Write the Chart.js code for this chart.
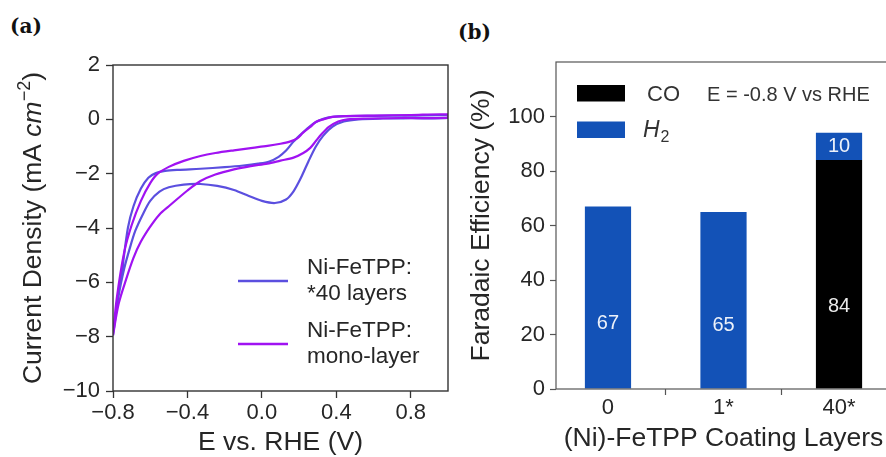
<!DOCTYPE html>
<html>
<head>
<meta charset="utf-8">
<script src="https://cdn.jsdelivr.net/npm/chart.js@4.4.1/dist/chart.umd.min.js"></script>
<style>
  html, body { margin: 0; padding: 0; background: #fff; overflow: hidden; }
  body { width: 886px; height: 457px; position: relative; }
  canvas { position: absolute; top: 0; }
  #cv-chart { left: 0; }
  #fe-chart { left: 440px; }
  .tag { position: absolute; font: bold 20px "DejaVu Serif", serif; line-height: 24px; color: #111; }
</style>
</head>
<body>
<div class="tag" style="left:10px; top:14px;">(a)</div>
<div class="tag" style="left:458px; top:20px;">(b)</div>
<canvas id="cv-chart" width="460" height="457"></canvas>
<canvas id="fe-chart" width="460" height="457"></canvas>
<script>
// --- cyclic voltammograms, potential (V vs RHE) and current density (mA cm-2) ---
// 40 layers: cathodic branch out to 1.0 V, then the return branch back to -0.8 V
const cv40E = [-0.80, -0.77, -0.74, -0.71, -0.68, -0.64, -0.60, -0.55, -0.50, -0.42, -0.33, -0.24, -0.15, -0.07, 0.00, 0.07, 0.13, 0.17, 0.21, 0.25, 0.29, 0.33, 0.38, 0.44, 0.52, 0.65, 0.80, 1.00,
               1.00, 0.80, 0.60, 0.45, 0.38, 0.33, 0.29, 0.25, 0.21, 0.17, 0.13, 0.09, 0.04, -0.02, -0.10, -0.20, -0.33, -0.45, -0.52, -0.57, -0.61, -0.65, -0.69, -0.72, -0.75, -0.78, -0.80];
const cv40J = [-7.95, -6.5, -5.5, -4.75, -4.1, -3.5, -3.0, -2.66, -2.5, -2.4, -2.38, -2.45, -2.6, -2.82, -3.0, -3.08, -2.95, -2.65, -2.15, -1.55, -1.0, -0.6, -0.27, -0.08, 0.0, 0.03, 0.04, 0.05,
               0.15, 0.14, 0.13, 0.12, 0.09, 0.02, -0.1, -0.3, -0.55, -0.82, -1.15, -1.38, -1.55, -1.63, -1.7, -1.76, -1.82, -1.86, -1.9, -1.98, -2.15, -2.55, -3.2, -4.0, -5.5, -6.95, -7.95];
// mono-layer
const cvMonoE = [-0.80, -0.77, -0.73, -0.69, -0.65, -0.60, -0.55, -0.50, -0.40, -0.33, -0.25, -0.15, -0.06, 0.03, 0.10, 0.17, 0.22, 0.26, 0.29, 0.32, 0.36, 0.41, 0.46, 0.55, 0.75, 1.00,
                 1.00, 0.80, 0.60, 0.45, 0.38, 0.33, 0.29, 0.26, 0.22, 0.19, 0.15, 0.10, 0.03, -0.05, -0.15, -0.25, -0.33, -0.42, -0.50, -0.56, -0.60, -0.65, -0.70, -0.74, -0.78, -0.80];
const cvMonoJ = [-7.95, -6.8, -5.9, -5.1, -4.5, -3.95, -3.5, -3.2, -2.62, -2.27, -2.03, -1.84, -1.72, -1.63, -1.52, -1.41, -1.25, -1.05, -0.8, -0.55, -0.28, -0.08, 0.0, 0.03, 0.05, 0.06,
                 0.18, 0.16, 0.14, 0.12, 0.09, 0.0, -0.1, -0.28, -0.5, -0.7, -0.82, -0.9, -0.98, -1.05, -1.14, -1.24, -1.35, -1.53, -1.75, -2.0, -2.35, -3.0, -3.9, -4.9, -6.6, -7.95];
const cvNames = [['Ni-FeTPP:', '*40 layers'], ['Ni-FeTPP:', 'mono-layer']];
const eTicks = [-0.8, -0.4, 0, 0.4, 0.8];
const jTicks = [2, 0, -2, -4, -6, -8, -10];

// --- Faradaic efficiency per coating ---
const layers = ['0', '1*', '40*'];
const feCO = [null, null, 84];
const feH2 = [67, 65, 10];
const feTicks = [0, 20, 40, 60, 80, 100];

const FAM = '"Liberation Sans", Arial, sans-serif';
const INK = '#262626';
const BLUE_LINE = '#5b4fdf';
const PURPLE_LINE = '#a012f2';
const BAR_BLUE = '#1352b7';

const minus = (s) => String(s).replace('-', '\u2212');
const pts = (xs, ys) => xs.map((x, i) => ({ x: x, y: ys[i] }));

// box around the plot area
const frame = {
  id: 'frame',
  afterDatasetsDraw(chart, args, opts) {
    const { ctx, chartArea: a } = chart;
    ctx.save();
    ctx.strokeStyle = opts.color;
    ctx.lineWidth = opts.width;
    ctx.strokeRect(a.left, a.top, a.right - a.left, a.bottom - a.top);
    ctx.restore();
  }
};

// y title with italic unit and superscript exponent
const cvYTitle = {
  id: 'cvYTitle',
  afterDraw(chart) {
    const { ctx, chartArea: a } = chart;
    const big = 26.5, small = 18;
    const parts = [
      { t: 'Current Density (mA ', f: `${big}px ${FAM}`, dy: 0 },
      { t: 'cm', f: `italic ${big}px ${FAM}`, dy: 0 },
      { t: '\u2212' + '2', f: `${small}px ${FAM}`, dy: -11 },
      { t: ')', f: `${big}px ${FAM}`, dy: 0 }
    ];
    ctx.save();
    let w = 0;
    parts.forEach(p => { ctx.font = p.f; p.w = ctx.measureText(p.t).width; w += p.w; });
    ctx.translate(41, (a.top + a.bottom) / 2);
    ctx.rotate(-Math.PI / 2);
    ctx.fillStyle = INK;
    ctx.textBaseline = 'alphabetic';
    ctx.textAlign = 'left';
    let x = -w / 2;
    parts.forEach(p => { ctx.font = p.f; ctx.fillText(p.t, x, p.dy); x += p.w; });
    ctx.restore();
  }
};

// two-line legend inside the CV plot
const cvLegend = {
  id: 'cvLegend',
  afterDraw(chart) {
    const { ctx } = chart;
    ctx.save();
    ctx.font = `22.5px ${FAM}`;
    ctx.textBaseline = 'alphabetic';
    ctx.fillStyle = INK;
    chart.data.datasets.forEach((ds, i) => {
      const y0 = 274 + i * 63;
      ctx.strokeStyle = ds.borderColor;
      ctx.lineWidth = 2.5;
      ctx.beginPath();
      ctx.moveTo(238, y0 + 7);
      ctx.lineTo(288, y0 + 7);
      ctx.stroke();
      cvNames[i].forEach((line, k) => ctx.fillText(line, 307, y0 + k * 26));
    });
    ctx.restore();
  }
};

const axisCommon = (size) => ({
  ticks: { font: { family: FAM, size: size }, color: INK, autoSkip: false, maxRotation: 0 },
  border: { display: false },
});

new Chart(document.getElementById('cv-chart'), {
  type: 'scatter',
  data: {
    datasets: [
      { label: cvNames[0].join(' '), data: pts(cv40E, cv40J), borderColor: BLUE_LINE, order: 1 },
      { label: cvNames[1].join(' '), data: pts(cvMonoE, cvMonoJ), borderColor: PURPLE_LINE, order: 0 }
    ]
  },
  options: {
    responsive: false,
    animation: false,
    devicePixelRatio: 1,
    layout: { padding: { left: 0, right: 12, top: 65, bottom: 0 } },
    elements: {
      point: { radius: 0 },
      line: { borderWidth: 2.2, tension: 0.3, fill: false }
    },
    datasets: { scatter: { showLine: true } },
    plugins: {
      legend: { display: false },
      tooltip: { enabled: false },
      frame: { color: '#333', width: 1.4 }
    },
    scales: {
      x: {
        type: 'linear', min: -0.8, max: 1.0,
        afterFit: (s) => { s.height = 66; },
        afterBuildTicks: (s) => { s.ticks = eTicks.map(v => ({ value: v })); },
        ticks: { font: { family: FAM, size: 22 }, color: INK, padding: 2, maxRotation: 0, autoSkip: false,
                 callback: (v) => minus(v.toFixed(1)) },
        grid: { drawOnChartArea: false, tickLength: 7, color: '#333', tickWidth: 1.3 },
        border: { display: false },
        title: { display: true, text: 'E vs. RHE (V)', color: INK,
                 font: { family: FAM, size: 26.5, lineHeight: 1 }, padding: { top: 0, bottom: 1 } }
      },
      y: {
        type: 'linear', min: -10, max: 2,
        afterFit: (s) => { s.width = 113; },
        afterBuildTicks: (s) => { s.ticks = jTicks.map(v => ({ value: v })); },
        ticks: { font: { family: FAM, size: 22 }, color: INK, padding: 6, autoSkip: false,
                 callback: (v) => minus(v) },
        grid: { drawOnChartArea: false, tickLength: 7, color: '#333', tickWidth: 1.3 },
        border: { display: false }
      }
    }
  },
  plugins: [frame, cvYTitle, cvLegend]
});

// value labels inside the bars
const barLabels = {
  id: 'barLabels',
  afterDatasetsDraw(chart) {
    const { ctx } = chart;
    const yScale = chart.scales.y;
    ctx.save();
    ctx.font = `20px ${FAM}`;
    ctx.fillStyle = 'rgba(255,255,255,0.92)';
    ctx.textAlign = 'center';
    ctx.textBaseline = 'middle';
    chart.data.datasets.forEach((ds, di) => {
      const meta = chart.getDatasetMeta(di);
      meta.data.forEach((bar, i) => {
        const v = ds.data[i].y;
        if (v == null) return;
        const base = yScale.getValueForPixel(bar.base);
        const y = Math.abs(base) < 0.5 ? yScale.getPixelForValue(v * 0.36) : (bar.y + bar.base) / 2;
        ctx.fillText(String(v), bar.x, y);
      });
    });
    ctx.restore();
  }
};

// legend with the potential note
const feLegend = {
  id: 'feLegend',
  afterDraw(chart) {
    const { ctx } = chart;
    const ox = -440;
    const ds = chart.data.datasets;
    ctx.save();
    ctx.fillStyle = ds[0].backgroundColor;
    ctx.fillRect(577 + ox, 85, 48, 16.5);
    ctx.fillStyle = ds[1].backgroundColor;
    ctx.fillRect(577 + ox, 121.5, 48, 16.5);
    ctx.fillStyle = '#333';
    ctx.textBaseline = 'alphabetic';
    ctx.font = `22px ${FAM}`;
    ctx.fillText('CO', 647 + ox, 101);
    ctx.font = `20px ${FAM}`;
    ctx.fillText('E = -0.8 V vs RHE', 707 + ox, 100.5);
    ctx.font = `italic 23px ${FAM}`;
    ctx.fillText('H', 643 + ox, 137);
    const hw = ctx.measureText('H').width;
    ctx.font = `16px ${FAM}`;
    ctx.fillText('2', 643 + ox + hw + 1, 142);
    ctx.restore();
  }
};

new Chart(document.getElementById('fe-chart'), {
  type: 'bar',
  data: {
    datasets: [
      { label: 'CO', data: feCO.map((v, i) => ({ x: i, y: v })), backgroundColor: '#000000' },
      { label: 'H2', data: feH2.map((v, i) => ({ x: i, y: v })), backgroundColor: BAR_BLUE }
    ]
  },
  options: {
    responsive: false,
    animation: false,
    devicePixelRatio: 1,
    layout: { padding: { left: 0, right: 9, top: 62, bottom: 0 } },
    datasets: { bar: { barPercentage: 0.4, categoryPercentage: 1, borderWidth: 0 } },
    plugins: {
      legend: { display: false },
      tooltip: { enabled: false },
      frame: { color: '#555', width: 1.2 }
    },
    scales: {
      x: {
        type: 'linear', min: -0.45, max: 2.45, stacked: true, offset: false,
        afterFit: (s) => { s.height = 68; },
        afterBuildTicks: (s) => { s.ticks = layers.map((_, i) => ({ value: i })); },
        ticks: { font: { family: FAM, size: 22 }, color: INK, padding: 0, maxRotation: 0, autoSkip: false,
                 callback: (v) => layers[v] },
        grid: { drawOnChartArea: false, tickLength: 6, color: '#555', tickWidth: 1.2 },
        border: { display: false },
        title: { display: true, text: '(Ni)-FeTPP Coating Layers', color: INK,
                 font: { family: FAM, size: 26.5, lineHeight: 1 }, padding: { top: 0, bottom: 5 } }
      },
      y: {
        type: 'linear', min: 0, max: 120, stacked: true,
        afterFit: (s) => { s.width = 116; },
        afterBuildTicks: (s) => { s.ticks = feTicks.map(v => ({ value: v })); },
        ticks: { font: { family: FAM, size: 22 }, color: INK, padding: 5, autoSkip: false },
        grid: { drawOnChartArea: false, tickLength: 6, color: '#555', tickWidth: 1.2 },
        border: { display: false },
        title: { display: true, text: 'Faradaic Efficiency (%)', color: INK,
                 font: { family: FAM, size: 26.5 }, padding: { top: 26, bottom: 0 } }
      }
    }
  },
  plugins: [frame, barLabels, feLegend]
});
</script>
</body>
</html>
